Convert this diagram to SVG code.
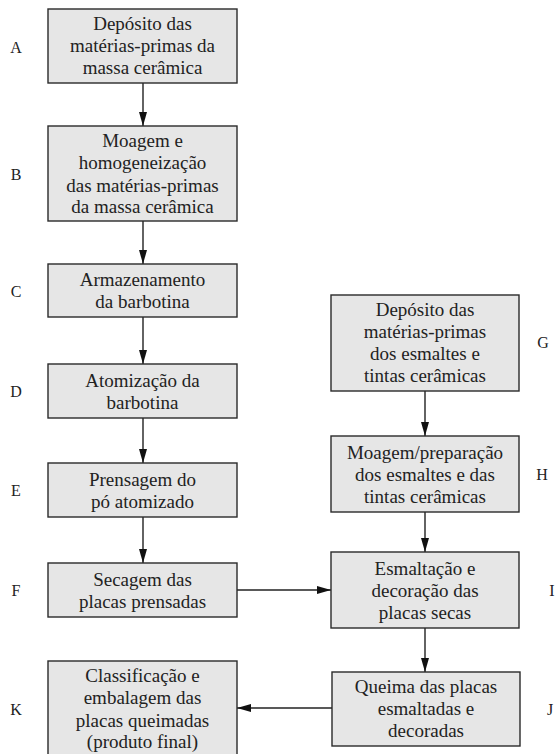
<svg xmlns="http://www.w3.org/2000/svg" width="559" height="754" viewBox="0 0 559 754">
<style>
.box{fill:#e6e6e6;stroke:#2a2a2a;stroke-width:1.4}
.t{font-family:'Liberation Serif','DejaVu Serif',serif;font-size:19px;fill:#222;text-anchor:middle}
.lb{font-family:'Liberation Serif','DejaVu Serif',serif;font-size:16px;fill:#222;text-anchor:middle}
.c{stroke:#222;stroke-width:1.4;fill:none;marker-end:url(#ah)}
</style>
<defs>
<marker id="ah" viewBox="0 0 14 8" refX="14" refY="4" markerWidth="14" markerHeight="8" markerUnits="userSpaceOnUse" orient="auto">
<path d="M0,0 L14,4 L0,8 Z" fill="#111"/>
</marker>
</defs>
<rect width="559" height="754" fill="#fff"/>
<g id="connectors">
<line class="c" x1="143" y1="83" x2="143" y2="126"/>
<line class="c" x1="143" y1="221" x2="143" y2="264"/>
<line class="c" x1="143" y1="317" x2="143" y2="364"/>
<line class="c" x1="143" y1="418" x2="143" y2="463"/>
<line class="c" x1="143" y1="517" x2="143" y2="563"/>
<line class="c" x1="425" y1="391" x2="425" y2="436"/>
<line class="c" x1="425" y1="512" x2="425" y2="552"/>
<line class="c" x1="425" y1="628" x2="425" y2="672"/>
<line class="c" x1="237" y1="590" x2="331" y2="590"/>
<line class="c" x1="332" y1="708" x2="237" y2="708"/>
</g>
<g id="A">
<rect class="box" x="48" y="9" width="189" height="74"/>
<text class="t" x="142.5" y="30">Depósito das</text>
<text class="t" x="142.5" y="52">matérias-primas da</text>
<text class="t" x="142.5" y="74">massa cerâmica</text>
<text class="lb" x="16" y="53">A</text>
</g>
<g id="B">
<rect class="box" x="48" y="126" width="189" height="95"/>
<text class="t" x="142.5" y="147">Moagem e</text>
<text class="t" x="142.5" y="169">homogeneização</text>
<text class="t" x="142.5" y="191.5">das matérias-primas</text>
<text class="t" x="142.5" y="213">da massa cerâmica</text>
<text class="lb" x="16" y="180">B</text>
</g>
<g id="C">
<rect class="box" x="48" y="264" width="189" height="53"/>
<text class="t" x="142.5" y="286">Armazenamento</text>
<text class="t" x="142.5" y="308">da barbotina</text>
<text class="lb" x="16" y="297">C</text>
</g>
<g id="D">
<rect class="box" x="48" y="364" width="189" height="54"/>
<text class="t" x="142.5" y="386.5">Atomização da</text>
<text class="t" x="142.5" y="408.5">barbotina</text>
<text class="lb" x="16" y="397">D</text>
</g>
<g id="E">
<rect class="box" x="48" y="463" width="189" height="54"/>
<text class="t" x="142.5" y="485.5">Prensagem do</text>
<text class="t" x="142.5" y="507.5">pó atomizado</text>
<text class="lb" x="16" y="496">E</text>
</g>
<g id="F">
<rect class="box" x="48" y="563" width="189" height="54"/>
<text class="t" x="142.5" y="585.5">Secagem das</text>
<text class="t" x="142.5" y="607.5">placas prensadas</text>
<text class="lb" x="16" y="596">F</text>
</g>
<g id="K">
<rect class="box" x="48" y="661" width="189" height="96"/>
<text class="t" x="142.5" y="682">Classificação e</text>
<text class="t" x="142.5" y="704">embalagem das</text>
<text class="t" x="142.5" y="726.5">placas queimadas</text>
<text class="t" x="142.5" y="748">(produto final)</text>
<text class="lb" x="16" y="715">K</text>
</g>
<g id="G">
<rect class="box" x="331" y="295" width="188" height="96"/>
<text class="t" x="425" y="316">Depósito das</text>
<text class="t" x="425" y="338">matérias-primas</text>
<text class="t" x="425" y="360">dos esmaltes e</text>
<text class="t" x="425" y="382">tintas cerâmicas</text>
<text class="lb" x="543" y="348">G</text>
</g>
<g id="H">
<rect class="box" x="331" y="436" width="188" height="76"/>
<text class="t" x="425" y="458.5">Moagem/preparação</text>
<text class="t" x="425" y="480.5">dos esmaltes e das</text>
<text class="t" x="425" y="502.5">tintas cerâmicas</text>
<text class="lb" x="542" y="480">H</text>
</g>
<g id="I">
<rect class="box" x="331" y="552" width="188" height="76"/>
<text class="t" x="425" y="574.5">Esmaltação e</text>
<text class="t" x="425" y="596.5">decoração das</text>
<text class="t" x="425" y="618.5">placas secas</text>
<text class="lb" x="552" y="596">I</text>
</g>
<g id="J">
<rect class="box" x="332" y="672" width="188" height="74"/>
<text class="t" x="426" y="692.5">Queima das placas</text>
<text class="t" x="426" y="714.5">esmaltadas e</text>
<text class="t" x="426" y="737">decoradas</text>
<text class="lb" x="550" y="715">J</text>
</g>
</svg>
